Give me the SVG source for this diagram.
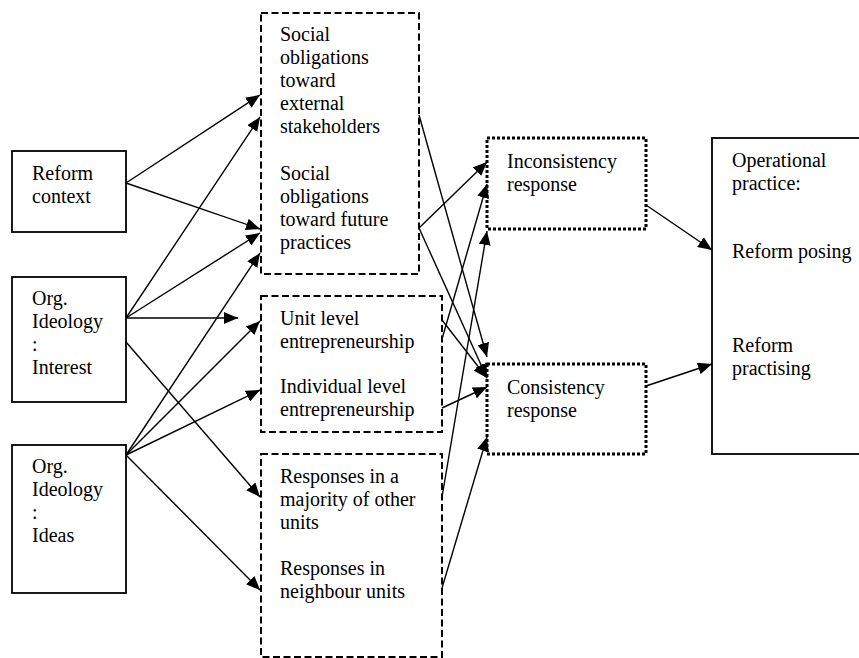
<svg xmlns="http://www.w3.org/2000/svg" width="859" height="658" viewBox="0 0 859 658">
  <style>
    text { font-family: "Liberation Serif", "Times New Roman", serif; font-size: 20px; fill: #000; }
    .solid { fill: #fff; stroke: #000; stroke-width: 1.8; }
    .dashed { fill: #fff; stroke: #000; stroke-width: 2; stroke-dasharray: 7 3.5; }
    .dotted { fill: #fff; stroke: #000; stroke-width: 3; stroke-dasharray: 3 2; }
    .conn line { stroke: #000; stroke-width: 1.4; marker-end: url(#arrow); }
  </style>
  <defs>
    <marker id="arrow" markerUnits="userSpaceOnUse" viewBox="0 0 14 12" refX="14" refY="6" markerWidth="14" markerHeight="12" orient="auto">
      <path d="M0,0 L14,6 L0,12 z" fill="#000"/>
    </marker>
  </defs>

  <!-- source boxes -->
  <g id="reform-context">
    <rect class="solid" x="12" y="151" width="114" height="81"/>
    <text x="32" y="180">Reform</text>
    <text x="32" y="203">context</text>
  </g>
  <g id="ideology-interest">
    <rect class="solid" x="12" y="277" width="114" height="125"/>
    <text x="32" y="305">Org.</text>
    <text x="32" y="328">Ideology</text>
    <text x="32" y="351">:</text>
    <text x="32" y="374">Interest</text>
  </g>
  <g id="ideology-ideas">
    <rect class="solid" x="12" y="445" width="114" height="148"/>
    <text x="32" y="473">Org.</text>
    <text x="32" y="496">Ideology</text>
    <text x="32" y="519">:</text>
    <text x="32" y="542">Ideas</text>
  </g>

  <!-- mediating groups -->
  <g id="social-obligations">
    <rect class="dashed" x="261" y="13" width="158" height="261"/>
    <text x="280" y="41">Social</text>
    <text x="280" y="64">obligations</text>
    <text x="280" y="87">toward</text>
    <text x="280" y="110">external</text>
    <text x="280" y="133">stakeholders</text>
    <text x="280" y="180">Social</text>
    <text x="280" y="203">obligations</text>
    <text x="280" y="226">toward future</text>
    <text x="280" y="249">practices</text>
  </g>
  <g id="entrepreneurship">
    <rect class="dashed" x="261" y="296" width="181" height="136"/>
    <text x="280" y="325">Unit level</text>
    <text x="280" y="348">entrepreneurship</text>
    <text x="280" y="393">Individual level</text>
    <text x="280" y="416">entrepreneurship</text>
  </g>
  <g id="other-units">
    <rect class="dashed" x="261" y="454" width="181" height="203"/>
    <text x="280" y="483">Responses in a</text>
    <text x="280" y="506">majority of other</text>
    <text x="280" y="529">units</text>
    <text x="280" y="575">Responses in</text>
    <text x="280" y="598">neighbour units</text>
  </g>

  <!-- responses -->
  <g id="inconsistency-response">
    <rect class="dotted" x="487" y="138" width="159" height="91"/>
    <text x="507" y="168">Inconsistency</text>
    <text x="507" y="191">response</text>
  </g>
  <g id="consistency-response">
    <rect class="dotted" x="487" y="364" width="159" height="90"/>
    <text x="507" y="394">Consistency</text>
    <text x="507" y="417">response</text>
  </g>

  <!-- outcome -->
  <g id="operational-practice">
    <rect class="solid" x="712" y="138" width="160" height="316"/>
    <text x="732" y="167">Operational</text>
    <text x="732" y="190">practice:</text>
    <text x="732" y="258">Reform posing</text>
    <text x="732" y="352">Reform</text>
    <text x="732" y="375">practising</text>
  </g>

  <!-- connectors -->
  <g id="connectors" class="conn">
    <line x1="126" y1="183" x2="260" y2="95"/>
    <line x1="126" y1="183" x2="260" y2="229"/>
    <line x1="126" y1="318" x2="260" y2="117"/>
    <line x1="126" y1="318" x2="260" y2="233"/>
    <line x1="126" y1="318" x2="238" y2="318"/>
    <line x1="126" y1="342" x2="260" y2="497"/>
    <line x1="126" y1="455" x2="260" y2="253"/>
    <line x1="126" y1="455" x2="260" y2="321"/>
    <line x1="126" y1="455" x2="260" y2="390"/>
    <line x1="126" y1="455" x2="260" y2="590"/>
    <line x1="419" y1="115" x2="487" y2="357"/>
    <line x1="419" y1="228" x2="487" y2="162"/>
    <line x1="419" y1="228" x2="487" y2="378"/>
    <line x1="442" y1="320" x2="487" y2="378"/>
    <line x1="442" y1="339" x2="487" y2="184"/>
    <line x1="442" y1="408" x2="487" y2="387"/>
    <line x1="442" y1="497" x2="487" y2="231"/>
    <line x1="442" y1="588" x2="487" y2="437"/>
    <line x1="646" y1="205" x2="712" y2="250"/>
    <line x1="646" y1="386" x2="712" y2="364"/>
  </g>
</svg>
